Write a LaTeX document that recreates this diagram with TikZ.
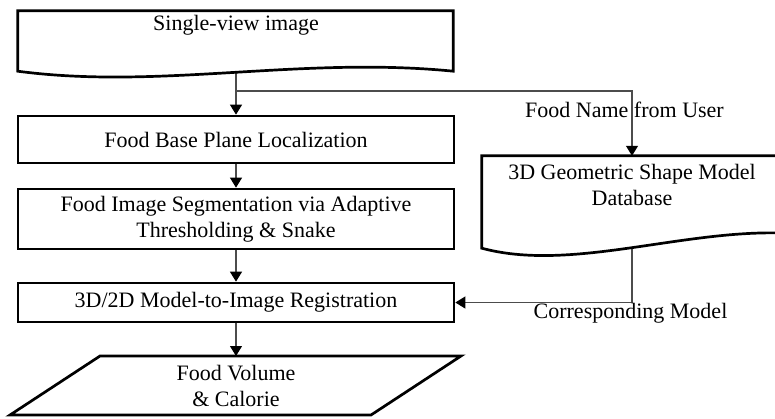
\documentclass[tikz,border=0pt]{standalone}
\usepackage{fontspec}
\setmainfont{Liberation Serif}
\usetikzlibrary{arrows.meta,calc,backgrounds}
\begin{document}
\begin{tikzpicture}[x=1pt,y=-1pt,
  every node/.style={font=\fontsize{22}{26}\selectfont, inner sep=0pt, align=center, text=black},
  procbox/.style={draw=black, line width=2.7pt, fill=white, minimum width=436pt},
  shapeline/.style={draw=black, line width=2.7pt, fill=white, line join=miter},
  conn/.style={draw=black!70, line width=1.1pt, -{Triangle[width=12pt,length=10pt,color=black]}},
  anchorbox/.style={draw=none, inner sep=0pt}
]
\useasboundingbox (0,0) rectangle (775,418);

% top document shape
\node[anchorbox, minimum width=435pt, minimum height=60pt] (top) at (235.5,41) {};
\path[shapeline] (top.north west) -- (top.south west)
  .. controls (160,90) and (300,56) .. (top.south east) -- (top.north east) -- cycle;
\node (toptext) at (236,25) {Single-view image};

% process boxes
\node[procbox, minimum height=47pt] (plane) at (236,139.5) {Food Base Plane Localization};
\node[procbox, minimum height=60pt] (seg) at (236,219) {Food Image Segmentation via Adaptive\\Thresholding \& Snake};
\node[procbox, minimum height=39pt] (reg) at (236,302.5) {3D/2D Model-to-Image Registration};

% output parallelogram
\path[shapeline] (100,356) -- (461,356) -- (371,415) -- (10,415) -- cycle;
\coordinate (outtop) at (236,356);
\node (out) at (236,385.5) {Food Volume\\\& Calorie};

% database document shape
\node[anchorbox, minimum width=300pt, minimum height=92pt] (db) at (632,202) {};
\path[shapeline] (db.north west) -- (db.south west)
  .. controls (570,272) and (680,230) .. (782,233) -- (db.north east) -- cycle;
\node (dbtext) at (632,184.5) {3D Geometric Shape Model\\Database};

% labels
\node (fname) at (624.5,110) {Food Name from User};
\node (corr) at (630.5,313) {Corresponding Model};

\coordinate (split) at (236,91);

\begin{pgfonlayer}{background}
\draw[conn] (plane.north |- top.south) -- (plane.north);
\draw[conn] (split) -| (db.north);
\draw[conn] (plane) -- (seg);
\draw[conn] (seg) -- (reg);
\draw[conn] (reg) -- (outtop);
\draw[conn] (db.south) |- (reg.east);
\end{pgfonlayer}
\end{tikzpicture}
\end{document}
